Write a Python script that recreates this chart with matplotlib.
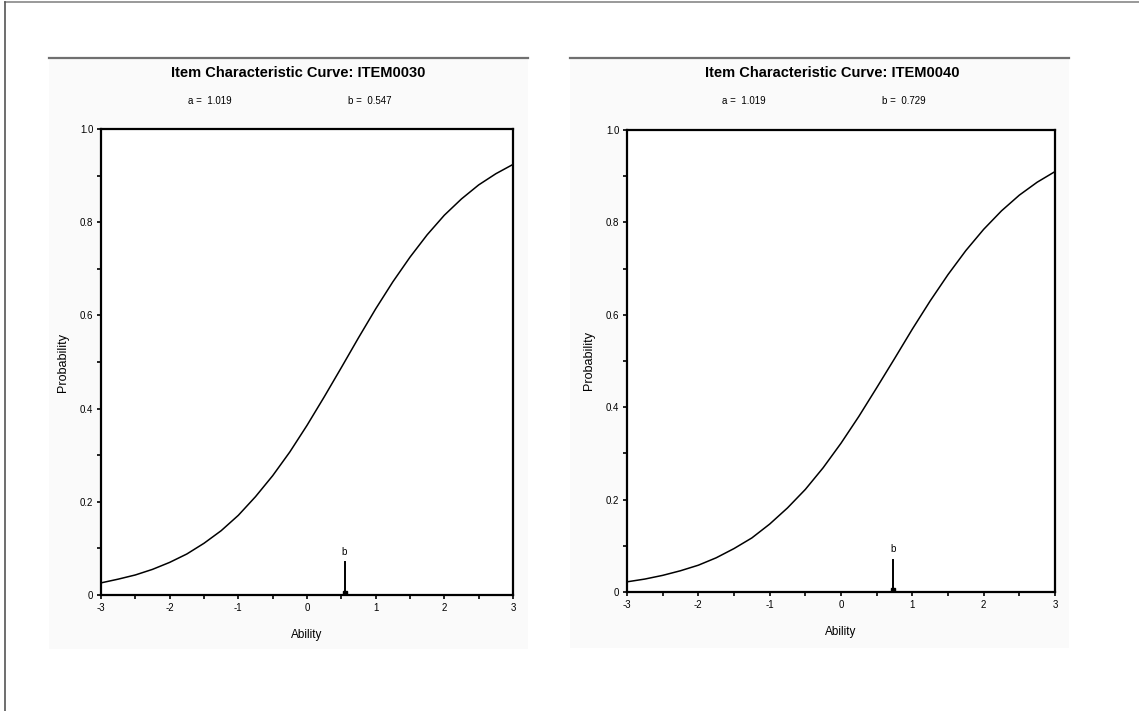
import numpy as np
import matplotlib
matplotlib.use("Agg")
import matplotlib.pyplot as plt
from matplotlib.patches import Rectangle
from matplotlib.lines import Line2D

plt.rcParams['font.family'] = ['Liberation Sans', 'DejaVu Sans']
plt.rcParams['axes.unicode_minus'] = False

# ability grid and probabilities
ability = [-3, -2.75, -2.5, -2.25, -2, -1.75, -1.5, -1.25, -1, -0.75, -0.5, -0.25,
           0, 0.25, 0.5, 0.75, 1, 1.25, 1.5, 1.75, 2, 2.25, 2.5, 2.75, 3]
prob_item30 = [0.026, 0.034, 0.043, 0.055, 0.070, 0.088, 0.111, 0.138, 0.171, 0.211,
               0.256, 0.307, 0.364, 0.425, 0.488, 0.552, 0.614, 0.672, 0.725, 0.773,
               0.815, 0.850, 0.880, 0.904, 0.924]
prob_item40 = [0.022, 0.028, 0.036, 0.046, 0.058, 0.074, 0.094, 0.117, 0.147, 0.182,
               0.222, 0.269, 0.322, 0.380, 0.442, 0.505, 0.569, 0.630, 0.687, 0.739,
               0.785, 0.825, 0.859, 0.887, 0.910]

items = ["ITEM0030", "ITEM0040"]
a_vals = [1.019, 1.019]
b_vals = [0.547, 0.729]
b_marker_height = 0.07

W, H = 1139, 711
fig = plt.figure(figsize=(W / 100, H / 100), dpi=100)

def fx(px):
    return px / W

def fy(py):
    return 1 - py / H

# outer frame lines (top and left)
fig.add_artist(Line2D([fx(5), 1], [fy(2), fy(2)], color='#888888', lw=1.2))
fig.add_artist(Line2D([fx(5), fx(5)], [fy(2), 0], color='#555555', lw=1.2))

# panel boxes: (left, right, top, bottom) pixels of the gray panel and of the axes
panels = [(49, 528, 59, 649), (570, 1069, 59, 648)]
axes_px = [(101, 513, 129, 595), (627, 1055, 130, 592)]

for k in range(2):
    pl, pr, pt, pb = panels[k]
    fig.add_artist(Rectangle((fx(pl), fy(pb)), fx(pr) - fx(pl), fy(pt) - fy(pb),
                             facecolor='#fafafa', edgecolor='none', zorder=0))
    fig.add_artist(Line2D([fx(pl), fx(pr)], [fy(pt - 1), fy(pt - 1)],
                          color='#707070', lw=1.6))

    al, ar, at, ab = axes_px[k]
    ax = fig.add_axes([fx(al), fy(ab), fx(ar) - fx(al), fy(at) - fy(ab)])
    probs = prob_item30 if k == 0 else prob_item40
    ax.plot(ability, probs, color='black', lw=1.1)

    b = b_vals[k]
    ax.plot([b, b], [0, b_marker_height], color='black', lw=1.4)
    ax.plot([b], [0.004], marker='s', color='black', ms=3)
    ax.text(b, b_marker_height + 0.012, "b", ha='center', va='bottom', fontsize=7)

    ax.set_xlim(-3, 3)
    ax.set_ylim(0, 1)
    ax.set_xticks(range(-3, 4))
    ax.set_xticks(np.arange(-2.5, 3, 1), minor=True)
    ax.set_yticks([0, 0.2, 0.4, 0.6, 0.8, 1.0])
    ax.set_yticklabels(["0", "0.2", "0.4", "0.6", "0.8", "1.0"])
    ax.set_yticks(np.arange(0.1, 1, 0.2), minor=True)
    ax.tick_params(which='both', direction='out', length=3, width=1.2,
                   labelsize=7, pad=2.5)
    for s in ax.spines.values():
        s.set_linewidth(1.6)

    ax.set_xlabel("Ability", fontsize=8.5, labelpad=12)
    ax.set_ylabel("Probability", fontsize=9, labelpad=8)

    cx = (al + ar) / 2
    fig.text(fx(cx - 9), fy(73), "Item Characteristic Curve: " + items[k],
             ha='center', va='center', fontsize=10.5, fontweight='bold')
    fig.text(fx(cx - 97), fy(101), "a =  %.3f" % a_vals[k], ha='center', va='center',
             fontsize=7)
    fig.text(fx(cx + 63), fy(101), "b =  %.3f" % b, ha='center', va='center',
             fontsize=7)

fig.savefig("out.png", dpi=100)
